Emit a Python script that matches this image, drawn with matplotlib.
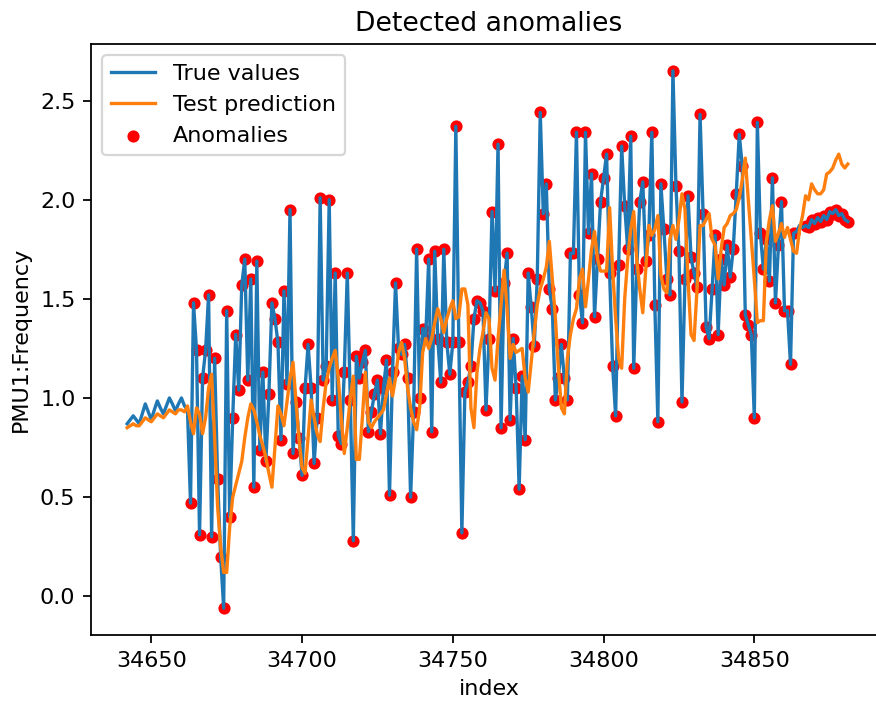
import matplotlib
matplotlib.use("Agg")
import matplotlib.pyplot as plt
import numpy as np

# index runs 34642 .. 34881
start_index = 34642

true_values = [
    0.87, 0.89, 0.91, 0.89, 0.87, 0.92, 0.97, 0.93, 0.89, 0.94,
    0.985, 0.95, 0.92, 0.96, 1.00, 0.97, 0.935, 0.97, 1.00, 0.96,
    0.94, 0.47, 1.48, 1.24, 0.31, 1.10, 1.24, 1.52, 0.30, 1.20,
    0.59, 0.20, -0.06, 1.44, 0.40, 0.90, 1.32, 1.04, 1.57, 1.70,
    1.09, 1.60, 0.55, 1.69, 0.74, 1.13, 0.68, 1.02, 1.48, 1.40,
    1.28, 0.79, 1.54, 1.07, 1.95, 0.72, 0.98, 0.80, 0.61, 1.05,
    1.27, 1.05, 0.67, 0.90, 2.01, 1.09, 1.16, 2.00, 0.99, 1.63,
    0.81, 0.77, 1.13, 1.63, 0.99, 0.28, 1.21, 1.10, 1.18, 1.24,
    0.83, 0.93, 1.02, 1.09, 0.82, 1.05, 1.19, 0.51, 1.13, 1.58,
    1.25, 1.22, 1.27, 1.10, 0.50, 0.93, 1.75, 1.00, 1.35, 1.30,
    1.70, 0.83, 1.74, 1.30, 1.08, 1.75, 1.28, 1.12, 1.28, 2.37,
    1.28, 0.32, 1.03, 1.08, 1.16, 1.40, 1.49, 1.48, 1.44, 0.94,
    1.30, 1.94, 1.54, 2.28, 0.85, 1.58, 1.73, 0.89, 1.30, 1.05,
    0.54, 1.11, 0.79, 1.63, 1.46, 1.26, 1.60, 2.44, 1.93, 2.08,
    1.55, 1.45, 0.99, 1.10, 1.27, 1.10, 0.99, 1.73, 1.73, 2.34,
    1.52, 1.38, 2.34, 1.83, 2.13, 1.41, 1.70, 1.99, 2.11, 2.23,
    1.63, 1.16, 0.91, 1.67, 2.27, 1.97, 1.75, 2.32, 1.15, 1.65,
    1.99, 2.09, 1.69, 1.82, 2.34, 1.47, 0.88, 2.08, 1.85, 1.60,
    1.52, 2.65, 2.07, 1.74, 0.98, 1.60, 2.02, 1.71, 1.63, 1.56,
    2.43, 1.93, 1.36, 1.30, 1.55, 1.82, 1.32, 1.70, 1.57, 1.77,
    1.61, 1.75, 2.03, 2.33, 2.17, 1.42, 1.37, 1.32, 0.90, 2.39,
    1.83, 1.65, 1.80, 1.59, 2.11, 1.48, 1.77, 1.99, 1.44, 1.44,
    1.17, 1.83, 1.84, 1.87, 1.86, 1.87, 1.86, 1.90, 1.88, 1.91,
    1.89, 1.92, 1.90, 1.94, 1.93, 1.95, 1.92, 1.93, 1.90, 1.89,
]

test_prediction = [
    0.85, 0.86, 0.87, 0.86, 0.86, 0.88, 0.90, 0.89, 0.88, 0.90,
    0.92, 0.91, 0.90, 0.92, 0.94, 0.93, 0.92, 0.94, 0.94, 0.93,
    0.96, 0.88, 0.82, 0.95, 0.92, 0.82, 0.90, 1.05, 1.12, 0.80,
    0.45, 0.25, 0.12, 0.12, 0.35, 0.50, 0.56, 0.62, 0.68, 0.80,
    0.90, 0.97, 0.94, 0.88, 0.81, 0.76, 0.70, 0.62, 0.55, 0.75,
    0.96, 0.92, 0.86, 0.98, 1.10, 1.18, 0.98, 0.79, 0.65, 0.62,
    0.80, 0.99, 0.90, 0.82, 0.78, 0.95, 1.08, 1.15, 1.20, 1.24,
    1.10, 0.90, 0.72, 0.85, 1.00, 1.11, 0.69, 0.69, 0.90, 1.13,
    0.88, 0.85, 0.88, 0.90, 0.92, 0.94, 1.02, 1.10, 1.01, 1.10,
    1.23, 1.28, 1.20, 1.05, 0.95, 0.88, 0.84, 0.95, 1.23, 1.30,
    1.25, 1.30, 1.38, 1.45, 1.40, 1.33, 1.40, 1.45, 1.49, 1.40,
    1.41, 1.55, 1.55, 1.47, 0.95, 0.85, 1.13, 1.25, 1.33, 1.43,
    1.40, 1.15, 1.09, 1.30, 1.47, 1.645, 1.45, 1.20, 1.27, 1.23,
    1.24, 1.25, 1.10, 1.03, 1.18, 1.33, 1.47, 1.55, 1.60, 1.66,
    1.79, 1.60, 1.41, 1.15, 0.95, 0.92, 1.20, 1.32, 1.40, 1.45,
    1.60, 1.65, 1.46, 1.60, 1.75, 1.84, 1.70, 1.64, 1.64, 1.64,
    1.96, 1.65, 1.40, 1.20, 1.15, 1.50, 1.70, 1.85, 1.94, 1.70,
    1.55, 1.43, 1.65, 1.87, 1.82, 1.85, 1.92, 1.62, 1.55, 1.53,
    1.80, 1.87, 1.80, 1.90, 2.03, 1.95, 1.60, 1.32, 1.29, 1.55,
    1.87, 1.87, 1.90, 1.93, 1.80, 1.77, 1.60, 1.75, 1.86, 1.88,
    1.92, 1.93, 1.95, 2.01, 2.10, 2.21, 2.00, 1.80, 1.60, 1.38,
    1.39, 1.39, 1.79, 1.90, 1.97, 1.79, 1.83, 1.88, 1.81, 1.86,
    1.80, 1.74, 1.73, 1.85, 1.92, 2.02, 2.00, 2.08, 2.05, 2.03,
    2.03, 2.05, 2.13, 2.14, 2.16, 2.20, 2.23, 2.18, 2.16, 2.18,
]

# stretches of index flagged as anomalies (inclusive)
anomaly_ranges = [(34663, 34863), (34867, 34881)]

index = np.arange(start_index, start_index + len(true_values))
true_values = np.array(true_values)
test_prediction = np.array(test_prediction)

flag = np.zeros(len(index), dtype=bool)
for a, b in anomaly_ranges:
    flag |= (index >= a) & (index <= b)

fig = plt.figure(figsize=(876 / 160, 704 / 160), dpi=160)
# axes run past the right edge, like the cropped original
ax = fig.add_axes([91 / 876, 69 / 704, 796 / 876, 591 / 704])

ax.plot(index, true_values, label="True values")
ax.plot(index, test_prediction, label="Test prediction")
ax.scatter(index[flag], true_values[flag], s=20, color="red", label="Anomalies")

ax.set_xlim(34630, 34894)
ax.set_title("Detected anomalies")
ax.set_xlabel("index")
ax.set_ylabel("PMU1:Frequency")
ax.legend(loc="upper left")

fig.savefig("out.png", dpi=160)
